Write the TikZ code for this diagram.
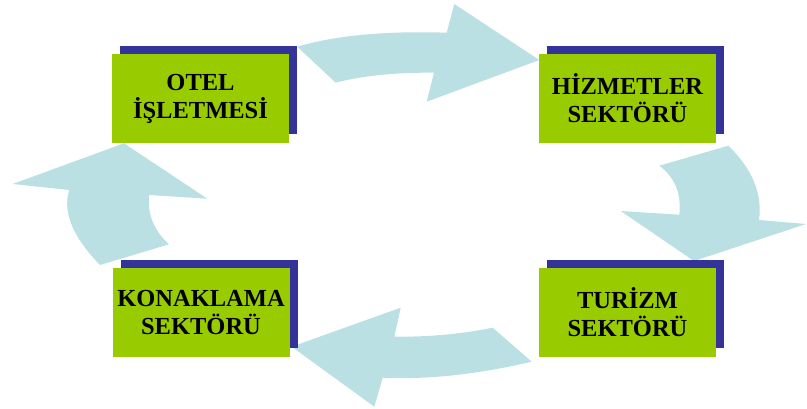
\documentclass[tikz,border=0pt]{standalone}
\usepackage{fontspec}
\setmainfont{Liberation Serif}
\definecolor{arrowblue}{RGB}{187,224,227}
\definecolor{boxgreen}{RGB}{153,204,0}
\definecolor{shadowblue}{RGB}{51,51,153}
\begin{document}
\begin{tikzpicture}[x=1pt,y=-1pt,
  cyclearrow/.style={fill=arrowblue,draw=none},
  shadowbox/.style={fill=shadowblue,draw=none,minimum width=177pt,minimum height=88pt,inner sep=0pt},
  sectorbox/.style={fill=boxgreen,draw=none,minimum width=177pt,minimum height=89pt,inner sep=0pt,
    align=center,font=\fontsize{24.5}{28}\selectfont\bfseries}]
\useasboundingbox (0,0) rectangle (807,409);

% curved arrows running clockwise between the boxes
\fill[cyclearrow] (297.3,46.7) .. controls (335.5,35.4) and (385.3,30.7) .. (446.7,32.7)
  -- (454.3,4) -- (539.3,60) -- (426.7,101.7) -- (434,72.7)
  .. controls (394.8,72.4) and (362,75.8) .. (335.7,82.7) -- cycle;
\fill[cyclearrow] (659.3,165.7) -- (728.3,145.7)
  .. controls (752.3,168.9) and (762.6,193.7) .. (759,220)
  -- (806,224) -- (694,261) -- (620.7,211) -- (679.3,214.7)
  .. controls (681.6,193.7) and (674.9,177.4) .. (659.3,165.7) -- cycle;
\fill[cyclearrow] (531.7,361.7) .. controls (476.8,374.5) and (427.2,379.8) .. (382.7,377.7)
  -- (374.3,406.7) -- (291.7,346.7) -- (400.7,307.7) -- (394.3,336.7)
  .. controls (429.1,337) and (461.9,334) .. (492.7,327.7) -- cycle;
\fill[cyclearrow] (100,265) -- (169,244.3)
  .. controls (153.9,230.6) and (147.3,214.2) .. (149,195)
  -- (207.3,198.7) -- (124,143.3) -- (12.7,184) -- (69.3,190)
  .. controls (62.3,211.7) and (72.5,236.7) .. (100,265) -- cycle;

% box centres
\coordinate (p1) at (200.5,98.5);
\coordinate (p2) at (627.5,98.5);
\coordinate (p3) at (201,312.5);
\coordinate (p4) at (627.5,312.5);

% offset shadows
\node[shadowbox] (s1) at ([shift={(8,-8.5)}]p1) {};
\node[shadowbox] (s2) at ([shift={(8,-8.5)}]p2) {};
\node[shadowbox] (s3) at ([shift={(8,-8.5)}]p3) {};
\node[shadowbox] (s4) at ([shift={(8,-8.5)}]p4) {};

% labelled boxes
\node[sectorbox] (otel) at (p1) {OTEL\\İŞLETMESİ};
\node[sectorbox] (hizmet) at (p2) {HİZMETLER\\SEKTÖRÜ};
\node[sectorbox] (konak) at (p3) {KONAKLAMA\\SEKTÖRÜ};
\node[sectorbox] (turizm) at (p4) {TURİZM\\SEKTÖRÜ};
\end{tikzpicture}
\end{document}
